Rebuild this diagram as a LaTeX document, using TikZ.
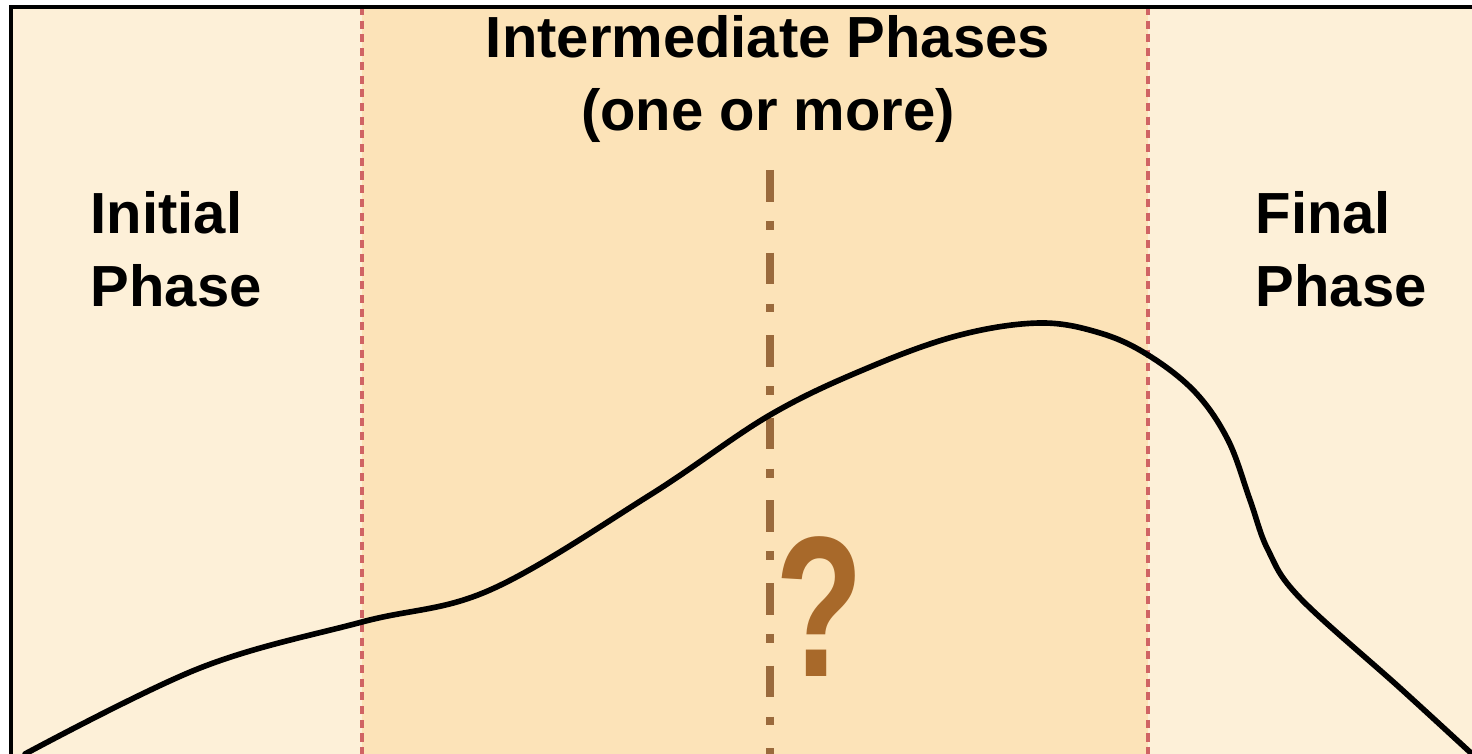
\documentclass[tikz,border=0pt]{standalone}
\usepackage{fontspec}
\setmainfont{Liberation Sans}
\definecolor{creamlight}{HTML}{FDF0D8}
\definecolor{creammid}{HTML}{FCE3B8}
\definecolor{bordred}{HTML}{D06464}
\definecolor{dotbrown}{HTML}{9A6A3C}
\definecolor{qbrown}{HTML}{A8692A}

\begin{document}
\begin{tikzpicture}[
    phaselabel/.style={inner sep=0pt, font=\fontsize{16.5}{20.8}\selectfont\bfseries},
    phaseline/.style={bordred, line width=1pt, dash pattern=on 2.3pt off 1.6pt},
    midline/.style={dotbrown, line width=2pt, dash pattern=on 9pt off 5.5pt on 2.5pt off 6.5pt},
    curve/.style={black, line width=1.6pt, line cap=round}
]
        \useasboundingbox (0,0) rectangle (14.72,7.54);
        \fill[white] (0,0) rectangle (14.72,7.54);
        % panels
        \fill[creamlight] (0.11,0) rectangle (3.62,7.47);
        \fill[creammid] (3.62,0) rectangle (11.48,7.47);
        \fill[creamlight] (11.48,0) rectangle (14.72,7.47);
        % phase borders
        \coordinate (b1top) at (3.62,7.47);
        \coordinate (b1bot) at (3.62,0);
        \coordinate (b2top) at (11.48,7.47);
        \coordinate (b2bot) at (11.48,0);
        \draw[phaseline] (b1top) -- (b1bot);
        \draw[phaseline] (b2top) -- (b2bot);
        % dash-dot split
        \coordinate (splittop) at (7.70,5.84);
        \coordinate (splitbot) at (7.70,0);
        \draw[midline] (splittop) -- (splitbot);
        % curve
        \draw[curve] plot[smooth, tension=0.6] coordinates {
            (0.25,0.00) (2.00,0.86) (3.62,1.32) (4.90,1.64)
            (6.50,2.59) (7.70,3.39) (8.70,3.87) (9.60,4.19) (10.40,4.31)
            (11.00,4.21) (11.48,3.99) (11.95,3.62) (12.28,3.14) (12.50,2.54)
            (12.68,2.04) (13.00,1.56) (14.00,0.66) (14.72,0.00)};
        % frame
        \draw[line width=1.1pt] (0.11,0) -- (0.11,7.47) -- (14.72,7.47);
        % labels
        \node[phaselabel, anchor=north west, align=left] (initial) at (0.90,5.63) {Initial\\Phase};
        \node[phaselabel, anchor=north, align=center] (inter) at (7.68,7.39) {Intermediate Phases\\(one or more)};
        \node[phaselabel, anchor=north west, align=left] (final) at (12.55,5.63) {Final\\Phase};
        \node[inner sep=0pt, qbrown, xscale=0.72, font=\fontsize{57}{57}\selectfont\bfseries] (quest) at (8.20,1.47) {?};
    \end{tikzpicture}
\end{document}
